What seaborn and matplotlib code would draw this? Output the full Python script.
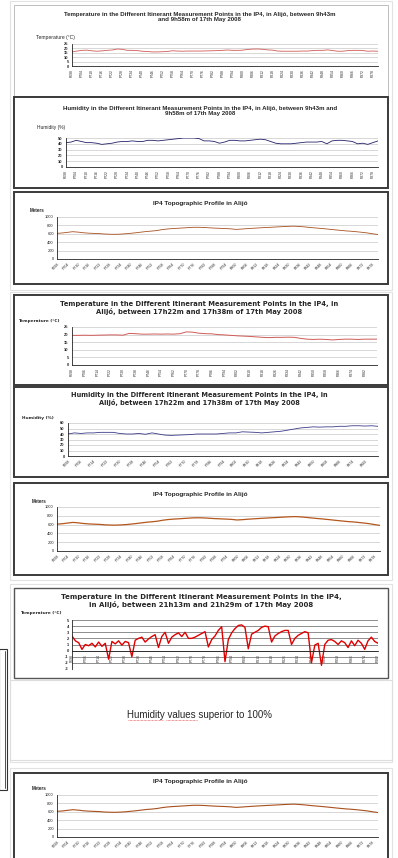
import numpy as np
import seaborn as sns
import matplotlib.pyplot as plt
from matplotlib.patches import Rectangle
from matplotlib.lines import Line2D

W, H = 398, 858

sns.set_style("white")
plt.rcParams['font.family'] = ['Liberation Sans', 'DejaVu Sans']

# ---- tick labels (itinerant measurement points) ----
labels_step6 = ['P698', 'P704', 'P710', 'P716', 'P722', 'P728', 'P734', 'P740', 'P746',
                'P752', 'P758', 'P764', 'P770', 'P776', 'P782', 'P788', 'P794', 'P800',
                'P806', 'P812', 'P818', 'P824', 'P830', 'P836', 'P842', 'P848', 'P854',
                'P860', 'P866', 'P872', 'P878']
labels_step8 = ['P698', 'P706', 'P714', 'P722', 'P730', 'P738', 'P746', 'P754', 'P762',
                'P770', 'P778', 'P786', 'P794', 'P802', 'P810', 'P818', 'P826', 'P834',
                'P842', 'P850', 'P858', 'P866', 'P874', 'P882']

# ---- morning (9h43m - 9h58m) ----
temp_morning = [16.0, 17.0, 17.8, 18.0, 17.2, 16.8, 17.2, 17.8, 18.2, 19.3, 19.0, 17.8,
                17.8, 17.5, 16.8, 16.5, 16.0, 16.0, 16.2, 16.5, 17.3, 17.0, 16.8, 17.0,
                17.0, 17.0, 17.0, 17.2, 17.3, 17.5, 17.8, 18.2, 17.8, 17.8, 18.0, 18.8,
                19.2, 19.3, 19.0, 18.3, 18.0, 17.0, 16.8, 16.8, 16.8, 16.8, 17.0, 17.0,
                17.5, 17.8, 17.8, 18.3, 17.5, 16.8, 16.8, 17.5, 17.8, 17.8, 17.5, 16.8,
                17.0, 16.8]
hum_morning = [42, 43, 46, 44, 42, 42, 41, 39, 40, 41, 43, 44, 44, 45, 44, 44, 46, 46,
               45, 46, 47, 48, 49, 50, 50, 50, 49, 45, 45, 44, 41, 43, 46, 46, 45, 45,
               46, 47, 48, 47, 44, 41, 40, 40, 40, 41, 42, 43, 43, 43, 44, 40, 45, 46,
               46, 45, 44, 40, 41, 39, 42, 45]

# ---- topographic profile (meters) ----
altitude = [610, 620, 635, 650, 640, 625, 615, 610, 605, 595, 590, 588,
            592, 600, 612, 625, 640, 655, 665, 678, 700, 715, 725, 732,
            740, 748, 755, 755, 750, 742, 735, 730, 725, 718, 705, 712,
            722, 730, 738, 745, 752, 758, 765, 772, 778, 782, 775, 765,
            752, 740, 730, 718, 705, 692, 680, 668, 660, 648, 635, 620, 600, 582]

# ---- evening (17h22m - 17h38m) ----
temp_evening = [19.5, 19.5, 19.6, 19.5, 19.6, 19.7, 19.8, 19.8, 19.6, 20.8, 20.6, 20.3,
                20.3, 20.4, 20.3, 20.4, 20.3, 20.6, 21.8, 21.6, 20.9, 20.6, 20.5, 20.0,
                19.8, 19.5, 19.2, 19.0, 18.8, 18.5, 18.2, 18.0, 18.2, 18.2, 18.3, 18.2,
                17.5, 17.0, 16.8, 17.0, 16.8, 16.5, 16.8, 17.0, 17.0, 16.8, 17.0, 17.0, 17.0]
hum_evening = [40, 42, 41, 42, 42, 43, 43, 43, 41, 40, 40, 41, 39.5, 42, 40, 38, 37.5,
               38, 38.5, 39, 40, 40, 40, 40, 41, 42, 42, 44, 43.5, 43, 42, 43, 44, 45,
               47, 49, 51, 52, 53, 52.5, 53, 53, 54, 54, 55, 55, 54.5, 55, 54]

# ---- night (21h13m - 21h29m) ----
temp_night = [2.4, 1.6, 1.3, 0.2, 1.0, 0.8, 1.2, 0.6, 1.4, 0.7, 1.2, -1.4, 1.5, 1.1,
              1.6, 0.9, 1.5, 1.3, -1.0, 1.7, 2.0, 2.2, 1.4, 1.9, 2.3, 2.6, 0.5, 2.3,
              3.0, 1.2, 2.2, 2.6, 2.9, 2.3, 3.0, 2.0, 2.0, 2.2, 2.5, 2.8, 3.1, 0.6,
              1.8, 2.4, 3.3, 3.9, -1.8, 1.8, 2.9, 3.6, 4.1, 4.2, 3.8, 0.3, 2.7, 3.0,
              3.3, 3.8, 4.0, 3.9, 1.4, 2.4, 2.8, 3.1, 3.3, 3.3, 1.0, 2.0, 2.5, 2.8,
              3.1, 2.9, -2.0, 0.9, 1.2, -2.4, 1.0, 1.7, 1.8, 1.5, 1.0, 1.6, 1.3, 0.5,
              1.6, 0.8, 1.7, 1.2, 0.2, 1.6, 2.2, 1.5, 1.2]

fig = plt.figure(figsize=(W / 100, H / 100), dpi=100)


def fig_rect(x0, y0, x1, y1):
    return [x0 / W, 1 - y1 / H, (x1 - x0) / W, (y1 - y0) / H]


def frame(x0, y0, x1, y1, color='#3a3a3a', lw=1.4):
    fig.patches.append(Rectangle((x0 / W, 1 - y1 / H), (x1 - x0) / W, (y1 - y0) / H,
                                 transform=fig.transFigure, fill=False,
                                 edgecolor=color, linewidth=lw, zorder=5))


def ftext(x, y, s, **kw):
    fig.text(x / W, 1 - y / H, s, **kw)


def panel(box, values, ylim, yticks, labels, step, rot, color, lw,
          grid_color='#c8c8c8', ytick_bold=False, zero_axis=False):
    ax = fig.add_axes(fig_rect(*box))
    x = np.arange(len(values))
    sns.lineplot(x=x, y=values, ax=ax, color=color, linewidth=lw)
    if zero_axis:
        # x axis crosses at 0 (set before tick styling, it resets ticks)
        ax.spines['bottom'].set_position(('data', 0))
    ax.set_xlim(0, len(values) - 1)
    ax.set_ylim(*ylim)
    ax.set_yticks(yticks)
    ax.set_yticklabels([str(t) for t in yticks], fontsize=2.9,
                       fontweight='bold' if ytick_bold else 'normal')
    pos = x[::step][:len(labels)]
    ax.set_xticks(pos)
    if rot == 90:
        ax.set_xticklabels(labels, rotation=90, fontsize=2.4, ha='center')
    else:
        ax.set_xticklabels(labels, rotation=45, fontsize=2.6, ha='right',
                           rotation_mode='anchor')
    ax.set_xticks(x, minor=True)
    ax.tick_params(axis='x', which='major', length=1.6, width=0.4, pad=0.8, direction='out')
    ax.tick_params(axis='x', which='minor', length=1.0, width=0.3, direction='out')
    ax.tick_params(axis='y', length=1.5, width=0.4, pad=0.8)
    ax.grid(axis='y', color=grid_color, linewidth=0.5)
    ax.set_axisbelow(True)
    for s in ['top', 'right']:
        ax.spines[s].set_visible(False)
    for s in ['left', 'bottom']:
        ax.spines[s].set_linewidth(0.6)
        ax.spines[s].set_color('#222222')
    ax.set_xlabel('')
    ax.set_ylabel('')
    ax.patch.set_alpha(0)
    return ax


TEMP = '#cf5a56'
NAVY = '#22226a'
BROWN = '#a8501e'

# page frames
frame(10, 1, 392, 290, color='#e2e2e2', lw=0.8)
frame(10, 292, 392, 580, color='#e2e2e2', lw=0.8)
frame(10, 584, 392, 762, color='#e2e2e2', lw=0.8)
frame(10, 768, 392, 862, color='#e2e2e2', lw=0.8)

# ---- panel 1 ----
frame(14, 5, 388, 96, color='#bdbdbd', lw=0.7)
ftext(200, 17, 'Temperature in the Different Itinerant Measurement Points in the IP4, in Alijó, between 9h43m\nand 9h58m of 17th May 2008',
      ha='center', va='center', fontsize=4.45, fontweight='bold', linespacing=1.2)
ftext(36, 37, 'Temperature (°C)', ha='left', va='center', fontsize=3.6)
panel((72, 44, 378, 66), temp_morning, (0, 25), [0, 5, 10, 15, 20, 25],
      labels_step6, 2, 90, TEMP, 0.6, ytick_bold=True)

# ---- panel 2 ----
frame(14, 97, 388, 188)
ftext(200, 111, 'Humidity in the Different Itinerant Measurement Points in the IP4, in Alijó, between 9h43m and\n9h58m of 17th May 2008',
      ha='center', va='center', fontsize=4.4, fontweight='bold', linespacing=1.2)
ftext(37, 128, 'Humidity (%)', ha='left', va='center', fontsize=3.5)
panel((66, 138, 378, 167), hum_morning, (0, 50), [0, 10, 20, 30, 40, 50],
      labels_step6, 2, 90, NAVY, 0.6, ytick_bold=True)

# ---- panel 3 ----
frame(14, 192, 388, 284)
ftext(200, 204, 'IP4 Topographic Profile in Alijó', ha='center', va='center',
      fontsize=4.6, fontweight='bold')
ftext(30, 211, 'Meters', ha='left', va='center', fontsize=3.3, fontweight='bold')
panel((57, 217, 378, 259), altitude, (0, 1000), [0, 200, 400, 600, 800, 1000],
      labels_step6, 2, 45, BROWN, 0.6)

# ---- panel 4 ----
frame(14, 295, 388, 385)
ftext(199, 308, 'Temperature in the Different Itinerant Measurement Points in the IP4, in\nAlijó, between 17h22m and 17h38m of 17th May 2008',
      ha='center', va='center', fontsize=4.85, fontweight='bold', family='DejaVu Sans',
      linespacing=1.15)
ftext(18, 321, 'Temperature (°C)', ha='left', va='center', fontsize=3.1,
      fontweight='bold', family='DejaVu Sans')
panel((72, 327, 377, 365), temp_evening, (0, 25), [0, 5, 10, 15, 20, 25],
      labels_step8, 2, 90, TEMP, 0.7, ytick_bold=True)

# ---- panel 5 ----
frame(14, 387, 388, 477)
ftext(199, 399, 'Humidity in the Different Itinerant Measurement Points in the IP4, in\nAlijó, between 17h22m and 17h38m of 17th May 2008',
      ha='center', va='center', fontsize=4.8, fontweight='bold', family='DejaVu Sans',
      linespacing=1.15)
ftext(22, 418, 'Humidity (%)', ha='left', va='center', fontsize=3.1,
      fontweight='bold', family='DejaVu Sans')
panel((68, 423, 378, 456), hum_evening, (0, 60), [0, 10, 20, 30, 40, 50, 60],
      labels_step8, 2, 45, '#3a3a8a', 0.6, ytick_bold=True)

# ---- panel 6 ----
frame(14, 483, 388, 575)
ftext(200, 495, 'IP4 Topographic Profile in Alijó', ha='center', va='center',
      fontsize=4.6, fontweight='bold')
ftext(32, 501, 'Meters', ha='left', va='center', fontsize=3.3, fontweight='bold')
panel((57, 507, 380, 551), altitude, (0, 1000), [0, 200, 400, 600, 800, 1000],
      labels_step6, 2, 45, '#b5561c', 0.9)

# ---- panel 7 ----
frame(14, 588, 388, 678, color='#555555', lw=1.0)
ftext(201, 601, 'Temperature in the Different Itinerant Measurement Points in the IP4,\nin Alijó, between 21h13m and 21h29m of 17th May 2008',
      ha='center', va='center', fontsize=5.0, fontweight='bold', family='DejaVu Sans',
      linespacing=1.15)
ftext(20, 613, 'Temperature (°C)', ha='left', va='center', fontsize=3.1,
      fontweight='bold', family='DejaVu Sans')
panel((72, 620, 378, 669), temp_night, (-3, 5), [-3, -2, -1, 0, 1, 2, 3, 4, 5],
      labels_step8, 4, 90, '#e00000', 1.0, grid_color='#606060',
      ytick_bold=True, zero_axis=True)

# ---- text box ----
frame(10, 680, 392, 760, color='#dddddd', lw=0.8)
ftext(200, 715, 'Humidity values superior to 100%', ha='center', va='center',
      fontsize=7.0)
fig.add_artist(Line2D([128 / W, 163 / W], [1 - 720 / H] * 2, color='#e03030',
                      linewidth=0.5, linestyle=(0, (1, 1))))
fig.add_artist(Line2D([166 / W, 197 / W], [1 - 720 / H] * 2, color='#e03030',
                      linewidth=0.5, linestyle=(0, (1, 1))))

# left box
frame(-1, 649, 7, 790, color='#333333', lw=0.8)
fig.add_artist(Line2D([5 / W, 5 / W], [1 - 651 / H, 1 - 788 / H], color='#333333',
                      linewidth=0.6))

# ---- panel 8 ----
frame(14, 773, 388, 862)
ftext(200, 782, 'IP4 Topographic Profile in Alijó', ha='center', va='center',
      fontsize=4.6, fontweight='bold')
ftext(32, 788, 'Meters', ha='left', va='center', fontsize=3.3, fontweight='bold')
panel((57, 795, 378, 837), altitude, (0, 1000), [0, 200, 400, 600, 800, 1000],
      labels_step6, 2, 45, BROWN, 0.8)

fig.savefig('out.png', dpi=100)
